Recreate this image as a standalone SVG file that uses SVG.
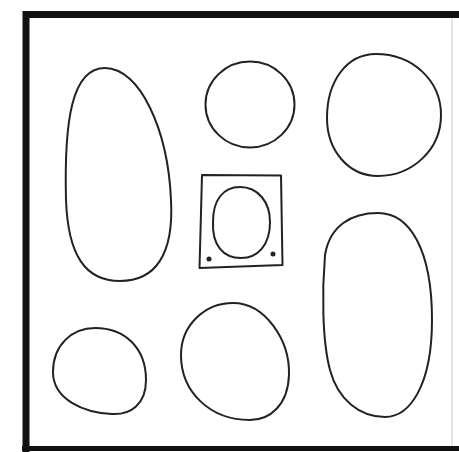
<svg xmlns="http://www.w3.org/2000/svg" width="459" height="452" viewBox="0 0 459 452">
<style>
.s{fill:none;stroke:#222;stroke-width:2;stroke-linejoin:round}
.f{fill:none;stroke:#111;stroke-width:7}
.d{fill:#222}
</style>
<rect width="459" height="452" fill="#fff"/>
<g id="frame">
<path class="f" d="M26 452 V14.5 H459"/>
<path d="M22 448.5 H459" stroke="#111" stroke-width="5" fill="none"/>
<path d="M452 18 V446" stroke="#ddd" stroke-width="1.5" fill="none"/>
</g>
<g id="shape-left-tall">
<path class="s" d="M105 68 C140 68 168 130 171 200 C174 255 155 281 120 281 C85 281 68 255 66 200 C64 120 72 68 105 68 Z"/>
</g>
<g id="shape-top-mid">
<ellipse class="s" cx="250" cy="104.5" rx="44.5" ry="43"/>
</g>
<g id="shape-top-right">
<path class="s" d="M376 54 C412 54 441 80 441 115 C441 150 412 176 378 176 C348 176 327 150 327 118 C327 82 346 54 376 54 Z"/>
</g>
<g id="shape-center-box">
<path class="s" d="M202 175 L281 175.5 L282.5 265 L199.5 268 Z"/>
<path class="s" d="M240 187 C258 187 270 202 270 222 C270 245 258 258 241 258 C223 258 212 245 213 222 C213 200 223 187 240 187 Z"/>
<circle class="d" cx="209" cy="259" r="2.5"/>
<circle class="d" cx="273" cy="254" r="2.5"/>
</g>
<g id="shape-bottom-left">
<path class="s" d="M95 328 C125 328 146 348 146 380 C146 405 130 415 112 414 C85 413 53 400 53 372 C53 345 72 328 95 328 Z"/>
</g>
<g id="shape-bottom-mid">
<path class="s" d="M233 303 C265 303 290 340 289 375 C288 405 270 420 250 420 C210 420 181 392 181 355 C181 325 205 303 233 303 Z"/>
</g>
<g id="shape-right-tall">
<path class="s" d="M378 213 C410 213 432 250 432 320 C432 385 410 417 385 417 C360 417 338 400 330 370 C322 340 322 290 325 255 C330 225 352 213 378 213 Z"/>
</g>
<g id="connectors"></g>
</svg>
